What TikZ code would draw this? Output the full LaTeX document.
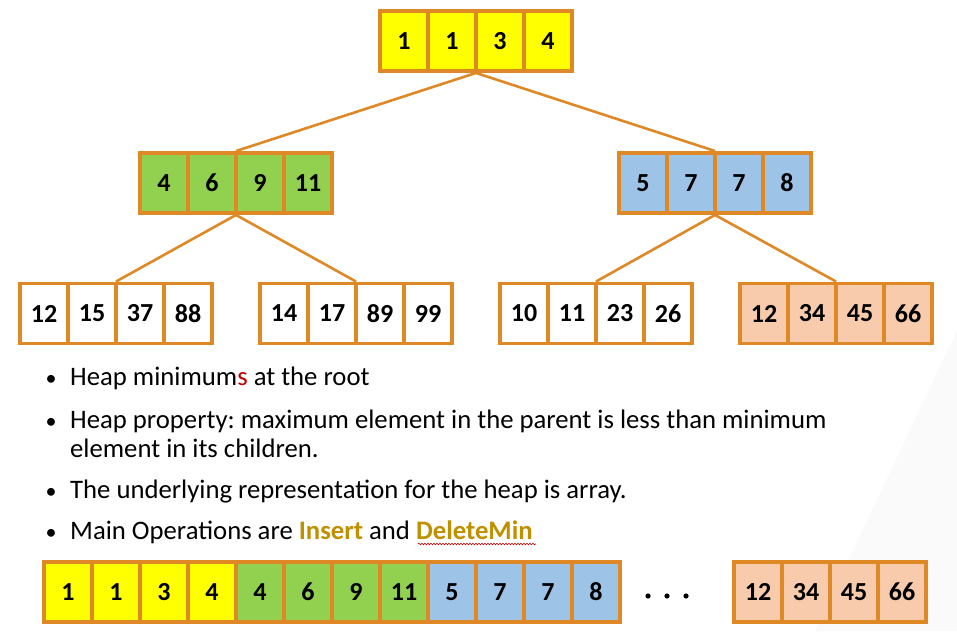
\documentclass[tikz,border=0pt]{standalone}
\usepackage{fontspec}
\setmainfont{Carlito}
\frenchspacing
\usetikzlibrary{fit,decorations.pathmorphing}
\definecolor{horange}{RGB}{222,136,38}
\definecolor{hyellow}{RGB}{255,255,0}
\definecolor{hgreen}{RGB}{146,208,80}
\definecolor{hblue}{RGB}{157,195,230}
\definecolor{hpeach}{RGB}{248,203,173}
\definecolor{hgold}{RGB}{191,144,0}
\definecolor{hred}{RGB}{192,0,0}
\newcommand\heapgroup[5]{%
  \foreach \v [count=\i] in {#5} {%
    \node[cell, fill=#4] (#1-\i) at ({#2+24+48*(\i-1)},{#3}) {\v};
  }%
  \node[fit=(#1-1)(#1-4), inner sep=0pt] (#1) {};
}
\tikzset{
  cell/.style={draw=horange, line width=3.5pt, minimum width=48pt, minimum height=60pt,
    inner sep=0pt, font=\bfseries\fontsize{26}{26}\selectfont},
  link/.style={draw=horange, line width=2.6pt},
  bultext/.style={anchor=base west, inner sep=0pt, font=\fontsize{26.7}{29}\selectfont},
  bulmark/.style={anchor=base, inner sep=0pt, font=\fontsize{22}{29}\selectfont},
}
\begin{document}
\begin{tikzpicture}[x=1pt,y=-1pt]
\useasboundingbox (0,0) rectangle (957,631);
\fill[black!2] (957,330) -- (957,631) -- (815,631) -- cycle;
% tree
\heapgroup{root}{380}{41}{hyellow}{1,1,3,4}
\heapgroup{L}{140}{183}{hgreen}{4,6,9,11}
\heapgroup{R}{619}{183}{hblue}{5,7,7,8}
\heapgroup{LL}{20}{313.5}{white}{12,15,37,88}
\heapgroup{LR}{260}{313.5}{white}{14,17,89,99}
\heapgroup{RL}{500}{313.5}{white}{10,11,23,26}
\heapgroup{RR}{740}{313.5}{hpeach}{12,34,45,66}
\draw[link] (root.south) -- (L.north);
\draw[link] (root.south) -- (R.north);
\draw[link] (L.south) -- (LL.north);
\draw[link] (L.south) -- (LR.north);
\draw[link] (R.south) -- (RL.north);
\draw[link] (R.south) -- (RR.north);
% bullets
\node[bulmark] (m1) at (51,385) {•};
\node[bultext] (b1) at (70,385) {Heap minimum{\color{hred}s} at the root};
\node[bulmark] (m2) at (51,428) {•};
\node[bultext] (b2) at (70,428) {Heap property: maximum element in the parent is less than minimum};
\node[bultext] (b2b) at (70,457) {element in its children.};
\node[bulmark] (m3) at (51,498) {•};
\node[bultext] (b3) at (70,498) {The underlying representation for the heap is array.};
\node[bulmark] (m4) at (51,539) {•};
\node[bultext] (b4) at (70,539) {Main Operations are {\bfseries\color{hgold}Insert} and {\bfseries\color{hgold}DeleteMin}};
\draw[hred, line width=0.6pt, decorate, decoration={snake, amplitude=0.8pt, segment length=3pt}] (418,544) -- (536,544);
% array
\heapgroup{A1}{44}{592}{hyellow}{1,1,3,4}
\heapgroup{A2}{236}{592}{hgreen}{4,6,9,11}
\heapgroup{A3}{428}{592}{hblue}{5,7,7,8}
\heapgroup{A4}{734}{592}{hpeach}{12,34,45,66}
\fill (648,596) circle (2.6pt) (667,596) circle (2.6pt) (686,596) circle (2.6pt);
\end{tikzpicture}
\end{document}
